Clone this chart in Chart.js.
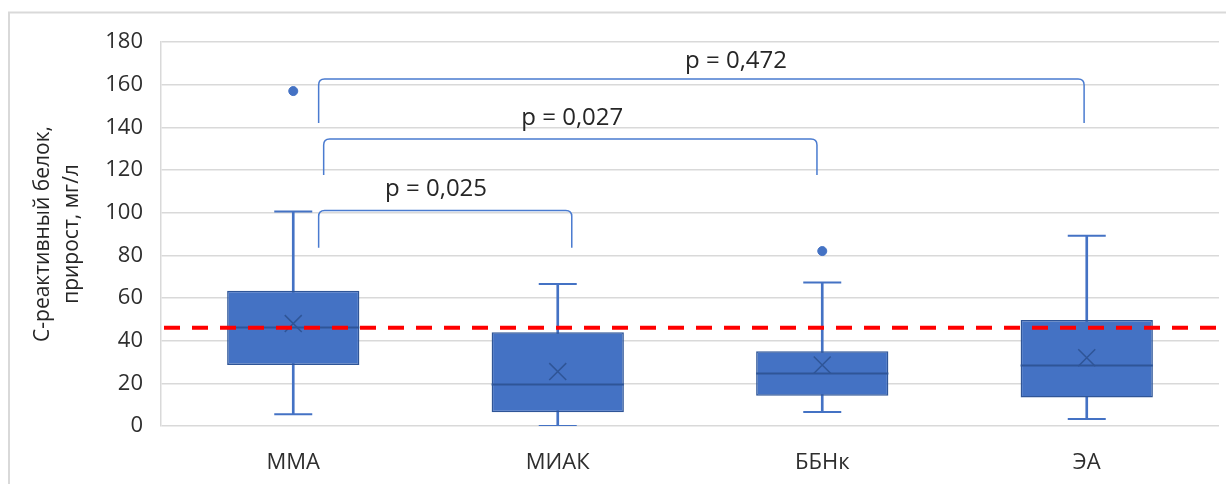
<!DOCTYPE html>
<html>
<head>
<meta charset="utf-8">
<script src="https://cdn.jsdelivr.net/npm/chart.js@4/dist/chart.umd.min.js"></script>
<style>
  html, body { margin: 0; padding: 0; background: #ffffff; overflow: hidden; }
  canvas { display: block; }
</style>
</head>
<body>
<canvas id="c" width="1226" height="484"></canvas>
<script>
// ---- data ----
const categories = ['ММА', 'МИАК', 'ББНк', 'ЭА'];
const whiskerMin = [5.5, 0, 6.6, 3.3];
const q1 = [28.6, 6.4, 14.2, 13.4];
const median = [46.3, 19.7, 24.7, 28.7];
const q3 = [63.4, 44, 35, 49.7];
const whiskerMax = [100.5, 66.6, 67.3, 89.2];
const mean = [48, 25.5, 28.6, 32];
const outliers = [157, null, 82, null];
const referenceValue = 46;
const yTicks = [0, 20, 40, 60, 80, 100, 120, 140, 160, 180];
const pLabels = ['p = 0,025', 'p = 0,027', 'p = 0,472'];
const comparePairs = [[0, 1], [0, 2], [0, 3]];
const yTitle = ['С-реактивный белок,', 'прирост, мг/л'];

// bracket placement (data units: category index offsets and y values)
const bracketLayout = [
  { fromOff: 0.096, toOff: 0.053, top: 101, leg: 83.5, labelX: 0.54, labelY: 111 },
  { fromOff: 0.115, toOff: -0.02, top: 134.5, leg: 117.6, labelX: 1.055, labelY: 144.5 },
  { fromOff: 0.096, toOff: -0.01, top: 162.6, leg: 142, labelX: 1.674, labelY: 171 }
];

const BOX = '#4472C4';
const BOX_EDGE = '#2F5597';
const TEXT = '#2e2e2e';
const FONT = "'Open Sans', 'Liberation Sans', sans-serif";

const boxData = q1.map((v, i) => [v, q3[i]]);
const whiskerData = whiskerMin.map((v, i) => [v, whiskerMax[i]]);

const framePlugin = {
  id: 'frame',
  beforeDraw(chart) {
    const ctx = chart.ctx;
    ctx.save();
    ctx.fillStyle = '#ffffff';
    ctx.fillRect(0, 0, chart.width, chart.height);
    ctx.strokeStyle = '#d9d9d9';
    ctx.lineWidth = 2;
    ctx.beginPath();
    ctx.moveTo(9, chart.height);
    ctx.lineTo(9, 12.5);
    ctx.lineTo(chart.width, 12.5);
    ctx.stroke();
    ctx.restore();
  }
};

const overlayPlugin = {
  id: 'overlay',
  afterDatasetsDraw(chart) {
    const ctx = chart.ctx;
    const xs = chart.scales.x, ys = chart.scales.y;
    const area = chart.chartArea;
    const meta = chart.getDatasetMeta(1);
    ctx.save();
    ctx.strokeStyle = BOX_EDGE;
    ctx.lineWidth = 2;
    meta.data.forEach((bar, i) => {
      const y = Math.round(ys.getPixelForValue(median[i])) + 0.5;
      ctx.beginPath();
      ctx.moveTo(bar.x - bar.width / 2, y);
      ctx.lineTo(bar.x + bar.width / 2, y);
      ctx.stroke();
    });
    ctx.restore();

    ctx.save();
    const ry = ys.getPixelForValue(referenceValue);
    ctx.strokeStyle = '#ff0000';
    ctx.lineWidth = 4;
    ctx.setLineDash([16, 12]);
    ctx.beginPath();
    ctx.moveTo(area.left + 3, ry);
    ctx.lineTo(chart.width, ry);
    ctx.stroke();
    ctx.restore();

    ctx.save();
    ctx.strokeStyle = '#4a7bd0';
    ctx.lineWidth = 1.5;
    const r = 6;
    comparePairs.forEach((pair, k) => {
      const L = bracketLayout[k];
      const x1 = xs.getPixelForValue(pair[0] + L.fromOff);
      const x2 = xs.getPixelForValue(pair[1] + L.toOff);
      const yt = ys.getPixelForValue(L.top);
      const yb = ys.getPixelForValue(L.leg);
      ctx.beginPath();
      ctx.moveTo(x1, yb);
      ctx.lineTo(x1, yt + r);
      ctx.quadraticCurveTo(x1, yt, x1 + r, yt);
      ctx.lineTo(x2 - r, yt);
      ctx.quadraticCurveTo(x2, yt, x2, yt + r);
      ctx.lineTo(x2, yb);
      ctx.stroke();
      ctx.fillStyle = '#262626';
      ctx.font = "24px " + FONT;
      ctx.textAlign = 'center';
      ctx.textBaseline = 'middle';
      ctx.fillText(pLabels[k], xs.getPixelForValue(L.labelX), ys.getPixelForValue(L.labelY));
    });
    ctx.restore();
  }
};

new Chart(document.getElementById('c'), {
  data: {
    labels: categories,
    datasets: [
      {
        type: 'bar', label: 'whiskers', data: whiskerData,
        backgroundColor: BOX, borderWidth: 0, barThickness: 2, grouped: false, order: 5
      },
      {
        type: 'bar', label: 'box', data: boxData,
        backgroundColor: BOX, borderColor: BOX_EDGE, borderWidth: 1.5, borderSkipped: false,
        categoryPercentage: 1, barPercentage: 0.5, grouped: false, order: 4
      },
      {
        type: 'line', label: 'capMin', data: whiskerMin, showLine: false,
        pointStyle: 'line', pointRadius: 19, borderColor: BOX, borderWidth: 2, order: 2
      },
      {
        type: 'line', label: 'capMax', data: whiskerMax, showLine: false,
        pointStyle: 'line', pointRadius: 19, borderColor: BOX, borderWidth: 2, order: 2
      },
      {
        type: 'line', label: 'mean', data: mean, showLine: false,
        pointStyle: 'crossRot', pointRadius: 12, borderColor: BOX_EDGE, borderWidth: 1.5, order: 1
      },
      {
        type: 'line', label: 'outliers', data: outliers, showLine: false,
        pointStyle: 'circle', pointRadius: 4.5, backgroundColor: BOX, borderColor: BOX, borderWidth: 1, order: 1
      }
    ]
  },
  options: {
    responsive: false,
    animation: false,
    events: [],
    layout: { autoPadding: false, padding: { top: 42, right: 7, left: 0, bottom: 0 } },
    plugins: { legend: { display: false }, tooltip: { enabled: false } },
    scales: {
      x: {
        type: 'category',
        offset: true,
        grid: { display: false },
        border: { display: false },
        ticks: { color: TEXT, font: { family: FONT, size: 22 }, padding: 16 },
        afterFit(s) { s.height = 58; }
      },
      y: {
        min: 0, max: 180,
        afterBuildTicks(s) { s.ticks = yTicks.map(v => ({ value: v })); },
        grid: { color: '#d9d9d9', lineWidth: 1.5, drawTicks: false },
        border: { display: true, color: '#d9d9d9', width: 1.5 },
        ticks: { color: TEXT, font: { family: FONT, size: 22 }, padding: 18 },
        title: {
          display: true, text: yTitle, color: '#262626',
          font: { family: FONT, size: 21, lineHeight: 1.38 },
          padding: { top: 28.5, bottom: 0 }
        },
        afterFit(s) { s.width = 161; }
      }
    }
  },
  plugins: [framePlugin, overlayPlugin]
});
</script>
</body>
</html>
